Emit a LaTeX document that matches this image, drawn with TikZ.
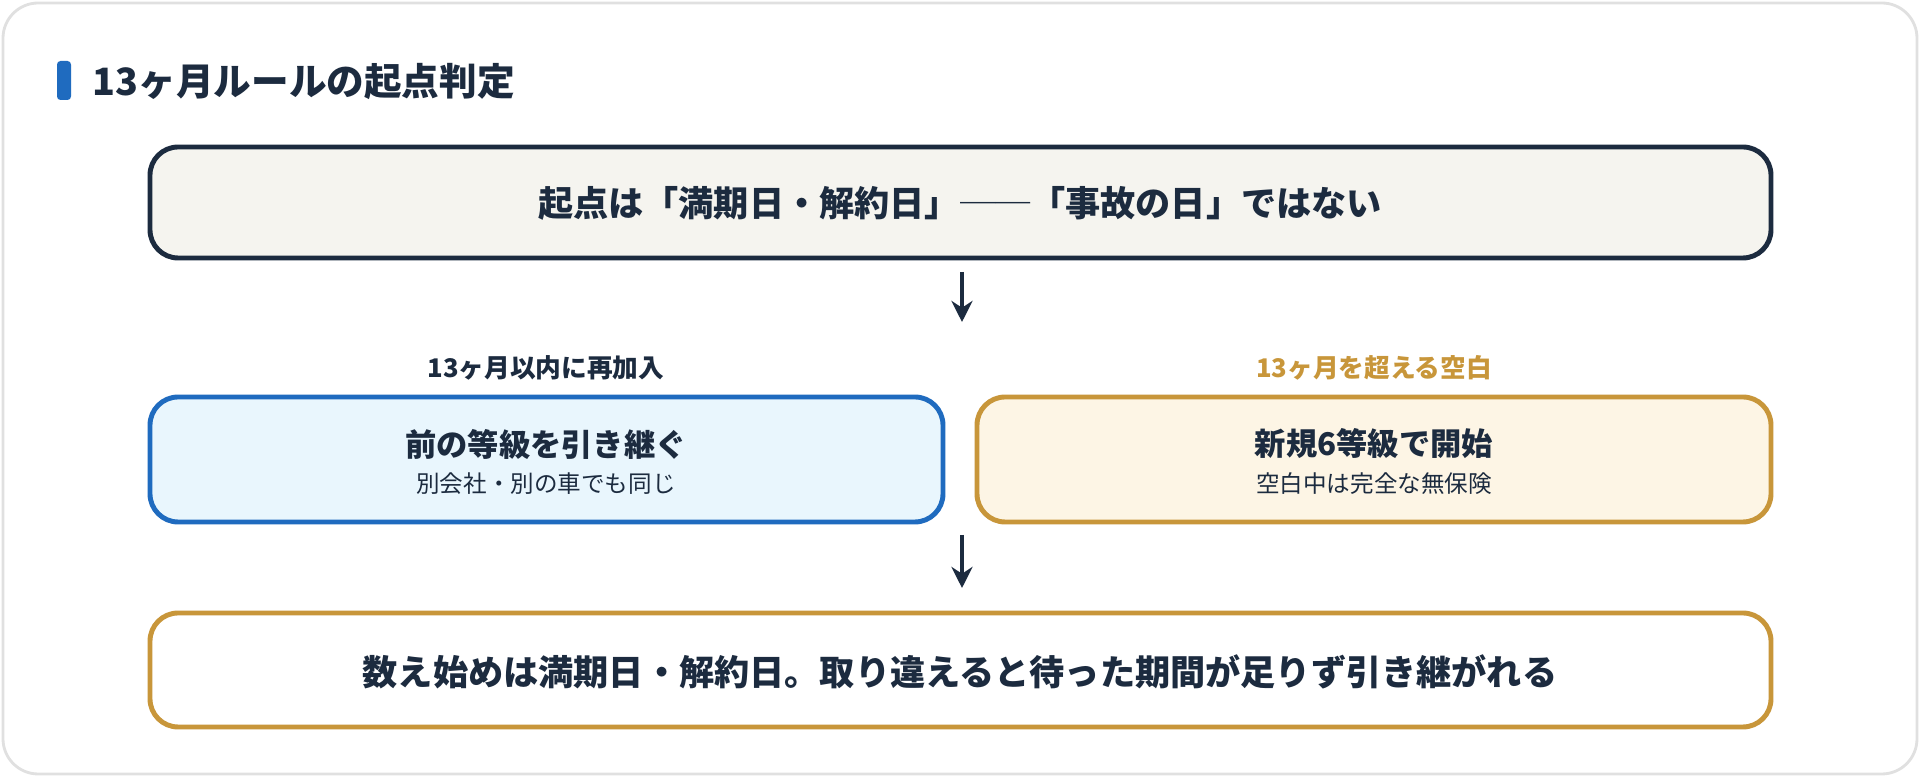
\documentclass[tikz,border=0pt]{standalone}
\usepackage{fontspec}
\setmainfont{Noto Sans CJK JP}
\usetikzlibrary{arrows.meta}
\definecolor{navy}{HTML}{1C2B3F}
\definecolor{bluebd}{HTML}{1F6BBF}
\definecolor{bluefill}{HTML}{E9F6FD}
\definecolor{gold}{HTML}{C8963A}
\definecolor{goldfill}{HTML}{FDF5E5}
\definecolor{paper}{HTML}{F5F4EF}
\tikzset{
  box/.style={draw, rounded corners=8pt, line width=1.4pt, inner sep=0pt},
  flow/.style={-{Stealth[length=6pt,width=6pt]}, line width=1.2pt, navy},
  main/.style={font=\fontsize{10}{12}\selectfont\bfseries, text=navy},
  head/.style={font=\fontsize{8.9}{11}\selectfont\bfseries, text=navy},
  tag/.style={font=\fontsize{7.3}{9}\selectfont\bfseries, text=navy},
  sub/.style={font=\fontsize{6.7}{8}\selectfont, text=navy},
}
\begin{document}
\begin{tikzpicture}[x=0.01cm,y=-0.01cm]
  \useasboundingbox (0,0) rectangle (1920,777);
  \draw[rounded corners=10pt, draw=black!12, fill=white, line width=0.8pt] (3,3) rectangle (1917,774);
  \fill[bluebd, rounded corners=1pt] (57,61) rectangle (71,100);
  \node[main, anchor=west, inner sep=0pt, font=\fontsize{10.7}{12}\selectfont\bfseries] (title) at (92,82) {13ヶ月ルールの起点判定};
  % top
  \draw[box, draw=navy, fill=paper] (150,147) rectangle (1771,258);
  \node[main] (start) at (960,203) {起点は「満期日・解約日」──「事故の日」ではない};
  \coordinate (a1) at (962,272);
  \coordinate (a2) at (962,322);
  \draw[flow] (a1) -- (a2);
  % branches
  \node[tag] (lblL) at (546,368) {13ヶ月以内に再加入};
  \node[tag, text=gold] (lblR) at (1374,368) {13ヶ月を超える空白};
  \draw[box, draw=bluebd, fill=bluefill] (150,397) rectangle (943,522);
  \node[head] (keep) at (546,444) {前の等級を引き継ぐ};
  \node[sub] (keepsub) at (546,484) {別会社・別の車でも同じ};
  \draw[box, draw=gold, fill=goldfill] (977,397) rectangle (1771,522);
  \node[head] (new) at (1374,444) {新規6等級で開始};
  \node[sub] (newsub) at (1374,484) {空白中は完全な無保険};
  \coordinate (b1) at (962,535);
  \coordinate (b2) at (962,588);
  \draw[flow] (b1) -- (b2);
  % bottom
  \draw[box, draw=gold, fill=white] (150,613) rectangle (1771,727);
  \node[main] (note) at (960,672) {数え始めは満期日・解約日。取り違えると待った期間が足りず引き継がれる};
\end{tikzpicture}
\end{document}
